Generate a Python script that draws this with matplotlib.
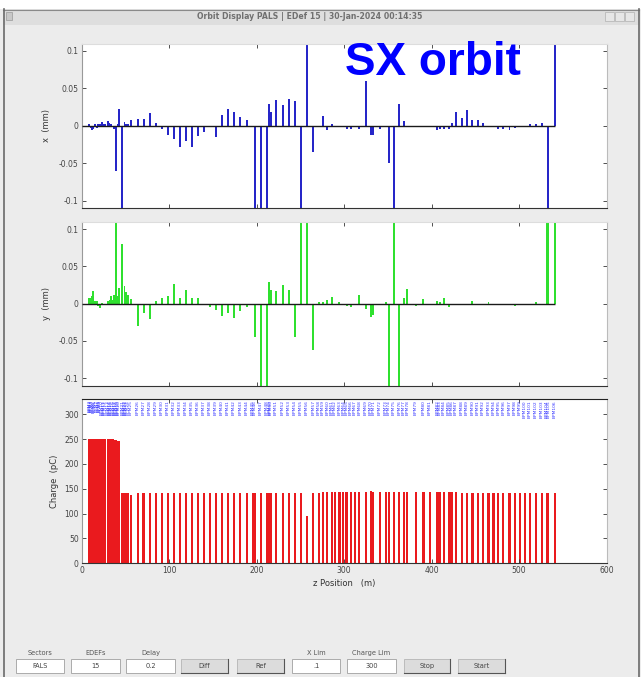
import numpy as np
import matplotlib.pyplot as plt
from matplotlib.patches import Rectangle

# BPM z positions (m) and readings
zpos = [0.5, 8.9, 10.5, 12.0, 13.5, 15.5, 17.3, 19.2, 21.0, 23.0, 25.0, 27.0, 29.9, 32.0, 33.7, 35.6, 37.5, 39.0, 41.0, 42.9,
        46.5, 49.0, 50.9, 52.8, 56.6, 64.2, 71.0, 77.9, 84.8, 92.0,
        98.5, 105.3, 112.2, 119.1, 125.9, 133.1, 140.0, 146.9, 153.7, 160.6,
        167.4, 174.3, 181.5, 188.8, 195.6, 198.3, 204.8, 211.6, 214.7, 216.5,
        222.3, 229.9, 236.8, 243.6, 250.9, 257.7, 264.9, 271.3, 275.6, 280.9,
        285.9, 289.7, 294.7, 299.2, 303.0, 307.6, 312.6, 317.5, 324.8, 330.5,
        333.5, 341.1, 348.0, 351.4, 357.1, 363.2, 368.6, 372.4, 382.3, 390.7,
        398.3, 406.7, 409.7, 414.3, 420.0, 423.0, 428.0, 434.5, 440.2, 446.7,
        452.8, 458.5, 465.0, 470.7, 476.4, 482.1, 489.0, 495.4, 501.1, 506.9,
        512.6, 519.4, 525.9, 531.6, 533.5, 541.1]

x_mm = [0.015, 0.002, -0.003, -0.006, -0.004, 0.002, -0.003, 0.002, 0.003, 0.005, 0.003, 0.003, 0.006, 0.004, 0.003, -0.002, -0.004, -0.060, 0.002, 0.022,
        -0.250, 0.005, 0.003, 0.002, 0.008, 0.009, 0.009, 0.017, 0.004, -0.004,
        -0.013, -0.018, -0.029, -0.021, -0.029, -0.014, -0.009, -0.002, -0.015, 0.015,
        0.023, 0.018, 0.012, 0.008, -0.002, -0.250, -0.250, -0.250, 0.029, 0.019,
        0.035, 0.028, 0.036, 0.033, -0.250, 0.250, -0.035, 0.0, 0.013, -0.006,
        0.002, 0.0, -0.002, -0.001, -0.005, -0.004, 0.0, -0.005, 0.060, -0.013,
        -0.013, -0.004, -0.002, -0.050, -0.250, 0.029, 0.006, 0.0, 0.0, 0.0,
        0.0, -0.006, -0.005, -0.005, -0.004, 0.004, 0.019, 0.011, 0.021, 0.008,
        0.008, 0.004, 0.0, -0.002, -0.005, -0.004, -0.006, -0.003, -0.002, 0.0,
        0.002, 0.002, 0.004, 0.0, -0.250, 0.250]

y_mm = [0.0, 0.007, 0.008, 0.010, 0.017, 0.004, 0.003, -0.003, -0.006, 0.001, 0.0, 0.0, 0.004, 0.005, 0.011, 0.005, 0.012, 0.250, 0.011, 0.021,
        0.080, 0.024, 0.016, 0.012, 0.006, -0.030, -0.013, -0.020, 0.004, 0.007,
        0.011, 0.026, 0.008, 0.019, 0.007, 0.007, 0.0, -0.005, -0.008, -0.017,
        -0.013, -0.019, -0.010, -0.005, 0.0, -0.045, -0.250, -0.250, 0.029, 0.018,
        0.017, 0.025, 0.019, -0.044, 0.250, 0.250, -0.062, 0.002, 0.002, 0.005,
        0.009, 0.0, 0.002, 0.0, -0.003, -0.004, -0.002, 0.012, -0.007, -0.018,
        -0.015, -0.002, 0.002, -0.250, 0.250, -0.250, 0.008, 0.020, -0.003, 0.006,
        0.0, 0.003, 0.002, 0.008, -0.004, -0.002, 0.0, 0.0, 0.0, 0.003,
        -0.002, 0.0, 0.002, 0.0, 0.0, -0.002, -0.002, -0.003, -0.002, 0.0,
        0.0, 0.002, 0.0, 0.250, 0.250, 0.250]

charge = [250, 250, 250, 250, 250, 250, 250, 250, 250, 250, 250, 250, 250, 250, 250, 250, 248, 248, 247, 247,
          141, 141, 141, 141, 137, 142, 142, 141, 141, 141,
          142, 142, 142, 142, 142, 142, 141, 142, 141, 141,
          141, 141, 142, 141, 141, 142, 141, 141, 142, 142,
          142, 142, 142, 141, 141, 95, 142, 142, 143, 143,
          144, 143, 143, 143, 143, 143, 143, 143, 143, 145,
          144, 143, 143, 143, 143, 143, 143, 143, 143, 143,
          143, 143, 143, 144, 144, 144, 143, 141, 142, 141,
          142, 142, 142, 142, 142, 142, 142, 142, 142, 142,
          142, 141, 141, 142, 142, 142]

bpm_names = ["BPM%d" % (i + 1) for i in range(len(zpos))]

title = "Orbit Display PALS | EDef 15 | 30-Jan-2024 00:14:35"
orbit_ticks = [-0.1, -0.05, 0, 0.05, 0.1]
charge_ticks = [0, 50, 100, 150, 200, 250, 300]
z_ticks = [0, 100, 200, 300, 400, 500, 600]

W, H = 641, 677
fig = plt.figure(figsize=(W / 100, H / 100), dpi=100, facecolor="#ececec")


def fx(px):
    return px / W


def fy(py):
    return 1 - py / H


def box(x0, y0, x1, y1, **kw):
    fig.patches.append(Rectangle((fx(x0), fy(y1)), fx(x1) - fx(x0), fy(y0) - fy(y1),
                                 transform=fig.transFigure, **kw))


def hline(x0, x1, y, **kw):
    fig.add_artist(plt.Line2D([fx(x0), fx(x1)], [fy(y), fy(y)], transform=fig.transFigure, **kw))


def vline(x, y0, y1, **kw):
    fig.add_artist(plt.Line2D([fx(x), fx(x)], [fy(y0), fy(y1)], transform=fig.transFigure, **kw))


# window frame and title bar
box(0, 0, W, 9, fc="white", ec="none")
box(3, 9, 639, 25, fc="#dedede", ec="none")
hline(3, 639, 9.5, color="#8a8a8a", lw=0.8)
vline(3.5, 9, H, color="#6a6a6a", lw=1.2)
vline(638.5, 9, H, color="#6a6a6a", lw=1.2)
fig.text(fx(310), fy(16.5), title, ha="center", va="center", fontsize=5.6,
         color="#707070", weight="bold")
box(6, 12, 12, 20, fc="#c8c8c8", ec="#999999", lw=0.5)
for bx in [605, 615, 625]:
    box(bx, 12, bx + 9, 21, fc="#e6e6e6", ec="#b0b0b0", lw=0.5)

z = np.array(zpos)
L, R = 81.5, 606.5


def style(ax, top_col):
    ax.set_facecolor("white")
    ax.set_xlim(0, 600)
    ax.set_xticks(z_ticks)
    ax.tick_params(direction="in", length=3, width=0.6, color="#333333",
                   labelsize=5.5, labelcolor="#444444", top=True, right=True, pad=2)
    ax.spines["left"].set_color("#999999")
    ax.spines["bottom"].set_color("#333333")
    ax.spines["right"].set_color("#bbbbbb")
    ax.spines["top"].set_color(top_col)
    for s in ax.spines.values():
        s.set_linewidth(0.8)


ax1 = fig.add_axes([fx(L), fy(208), fx(R) - fx(L), fy(43.5) - fy(208)])
ax1.bar(z, x_mm, width=2.0, color="#2626c8", linewidth=0)
ax1.hlines(0, 0, z.max(), color="#1a1a1a", lw=1, zorder=3)
ax1.set_ylim(-0.11, 0.11)
ax1.set_yticks(orbit_ticks)
ax1.set_yticklabels(["%g" % t for t in orbit_ticks])
style(ax1, "#dddddd")
ax1.set_xticklabels([])
ax1.set_ylabel("x  (mm)", fontsize=6, color="#333333", labelpad=6)

ax2 = fig.add_axes([fx(L), fy(385.7), fx(R) - fx(L), fy(221.7) - fy(385.7)])
ax2.bar(z, y_mm, width=2.0, color="#2fe02f", linewidth=0)
ax2.hlines(0, 0, z.max(), color="#1a1a1a", lw=1, zorder=3)
ax2.set_ylim(-0.11, 0.11)
ax2.set_yticks(orbit_ticks)
ax2.set_yticklabels(["%g" % t for t in orbit_ticks])
style(ax2, "#dddddd")
ax2.set_xticklabels([])
ax2.set_ylabel("y  (mm)", fontsize=6, color="#333333", labelpad=6)

ax3 = fig.add_axes([fx(L), fy(563.3), fx(R) - fx(L), fy(399.3) - fy(563.3)])
ax3.bar(z, charge, width=2.6, color="#ea1a1e", linewidth=0)
ax3.set_ylim(0, 330)
ax3.set_yticks(charge_ticks)
style(ax3, "#222222")
ax3.set_ylabel("Charge  (pC)", fontsize=6, color="#333333", labelpad=4)
ax3.set_xlabel("z Position   (m)", fontsize=6, color="#333333", labelpad=3)
for zi, name in zip(zpos, bpm_names):
    ax3.text(zi, 328, name, rotation=90, ha="center", va="top", fontsize=3.2,
             color="#3535ff", clip_on=True)

# big annotation over the x plot
fig.text(fx(345), fy(75), "SX orbit", ha="left", va="baseline", fontsize=33,
         family="Liberation Sans", weight="bold", color="#0000ff")

# control strip at the bottom
fields = [("Sectors", "FALS", 16, 64), ("EDEFs", "15", 71, 120), ("Delay", "0.2", 126, 175),
          ("X Lim", ".1", 292, 340), ("Charge Lim", "300", 347, 396)]
for lab, val, x0, x1 in fields:
    fig.text(fx((x0 + x1) / 2), fy(653), lab, ha="center", va="center", fontsize=4.8, color="#555555")
    box(x0, 659, x1, 673, fc="white", ec="#a0a0a0", lw=0.6)
    fig.text(fx((x0 + x1) / 2), fy(666), val, ha="center", va="center", fontsize=4.8, color="#444444")

buttons = [("Diff", 181, 228), ("Ref", 237, 284), ("Stop", 404, 450), ("Start", 458, 505)]
for lab, x0, x1 in buttons:
    box(x0, 659, x1, 673, fc="#dcdcdc", ec="#b5b5b5", lw=0.6)
    hline(x0, x1, 673, color="#555555", lw=0.8)
    vline(x1, 659, 673, color="#555555", lw=0.8)
    fig.text(fx((x0 + x1) / 2), fy(666), lab, ha="center", va="center", fontsize=4.8, color="#444444")

fig.savefig("out.png", dpi=100, facecolor=fig.get_facecolor())
